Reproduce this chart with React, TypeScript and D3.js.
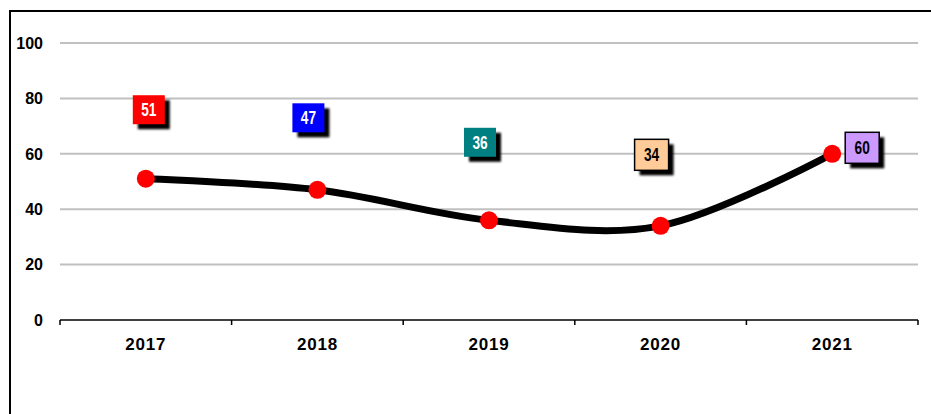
import React from 'react';
import * as d3 from 'd3';

const years = ['2017', '2018', '2019', '2020', '2021'];
const values = [51, 47, 36, 34, 60];
const yTicks = [0, 20, 40, 60, 80, 100];
const labelFills = ['#ff0000', '#0000ff', '#008080', '#ffcc99', '#cc99ff'];
const labelTextColors = ['#ffffff', '#ffffff', '#ffffff', '#000000', '#000000'];
const labelBorders = [false, false, false, true, true];

// manual label placement (pixels, relative to the point), like the hand-dragged labels in the original
const labelOffsets = [[3, -69], [-9, -72], [-9, -78], [-9, -71], [30, -6]];

const width = 931;
const height = 414;
const margin = { top: 43, right: 13, bottom: 94, left: 60 };

export default function App() {
  const x = d3.scaleBand().domain(years).range([margin.left, width - margin.right]);
  const y = d3.scaleLinear().domain([0, 100]).range([height - margin.bottom, margin.top]);
  const cx = (d: string) => (x(d) as number) + x.bandwidth() / 2;

  const line = d3.line<number>()
    .x((d, i) => cx(years[i]))
    .y((d) => y(d))
    .curve(d3.curveCardinal.tension(0));

  const x0 = margin.left;
  const x1 = width - margin.right;
  const y0 = y(0);
  const boundaries = years.map((d) => x(d) as number).concat([x1]);

  return (
    <svg width={width} height={height} style={{ position: 'absolute', left: 0, top: 0, background: '#fff' }}
      fontFamily="'Liberation Sans', Arial, sans-serif">
      <defs>
        <filter id="blur" x="-20%" y="-20%" width="140%" height="140%">
          <feGaussianBlur stdDeviation="0.8" />
        </filter>
      </defs>
      {/* frame */}
      <line x1={10} x2={width} y1={11} y2={11} stroke="#000" strokeWidth={2} />
      <line x1={10} x2={10} y1={10} y2={height} stroke="#000" strokeWidth={2} />

      {/* gridlines */}
      {yTicks.filter((t) => t > 0).map((t) => (
        <line key={t} x1={x0} x2={x1} y1={y(t)} y2={y(t)} stroke="#c0c0c0" strokeWidth={2} />
      ))}

      {/* y labels */}
      {yTicks.map((t) => (
        <text key={t} x={43} y={y(t)} dy="0.36em" textAnchor="end" fontSize={16} fontWeight="bold">{t}</text>
      ))}

      {/* x axis */}
      <line x1={x0} x2={x1} y1={y0} y2={y0} stroke="#000" strokeWidth={1.5} />
      {boundaries.map((b, i) => (
        <line key={i} x1={b} x2={b} y1={y0} y2={y0 + 5} stroke="#000" strokeWidth={1.5} />
      ))}
      {years.map((d) => (
        <text key={d} x={cx(d)} y={y0 + 30} textAnchor="middle" fontSize={17} fontWeight="bold" letterSpacing={0.8}>{d}</text>
      ))}

      {/* series */}
      <path d={line(values) as string} fill="none" stroke="#000" strokeWidth={7} strokeLinecap="round" />
      {values.map((v, i) => (
        <circle key={i} cx={cx(years[i])} cy={y(v)} r={9} fill="#ff0000" />
      ))}

      {/* data labels */}
      {values.map((v, i) => {
        const w = labelBorders[i] ? 34 : 32;
        const h = labelBorders[i] ? 31 : 29;
        const lx = cx(years[i]) + labelOffsets[i][0];
        const ly = y(v) + labelOffsets[i][1];
        return (
          <g key={i} transform={`translate(${lx - w / 2},${ly - h / 2})`}>
            <rect x={5} y={5} width={w} height={h} fill="#000" filter="url(#blur)" />
            <rect width={w} height={h} fill={labelFills[i]}
              stroke={labelBorders[i] ? '#000' : 'none'} strokeWidth={1.5} />
            {/* narrow bold look: squeeze a regular bold face horizontally */}
            <text transform={`translate(${w / 2},${h / 2}) scale(0.76,1)`} dy="0.36em" textAnchor="middle"
              fontSize={18} fontWeight="bold" fill={labelTextColors[i]}>{v}</text>
          </g>
        );
      })}
    </svg>
  );
}
